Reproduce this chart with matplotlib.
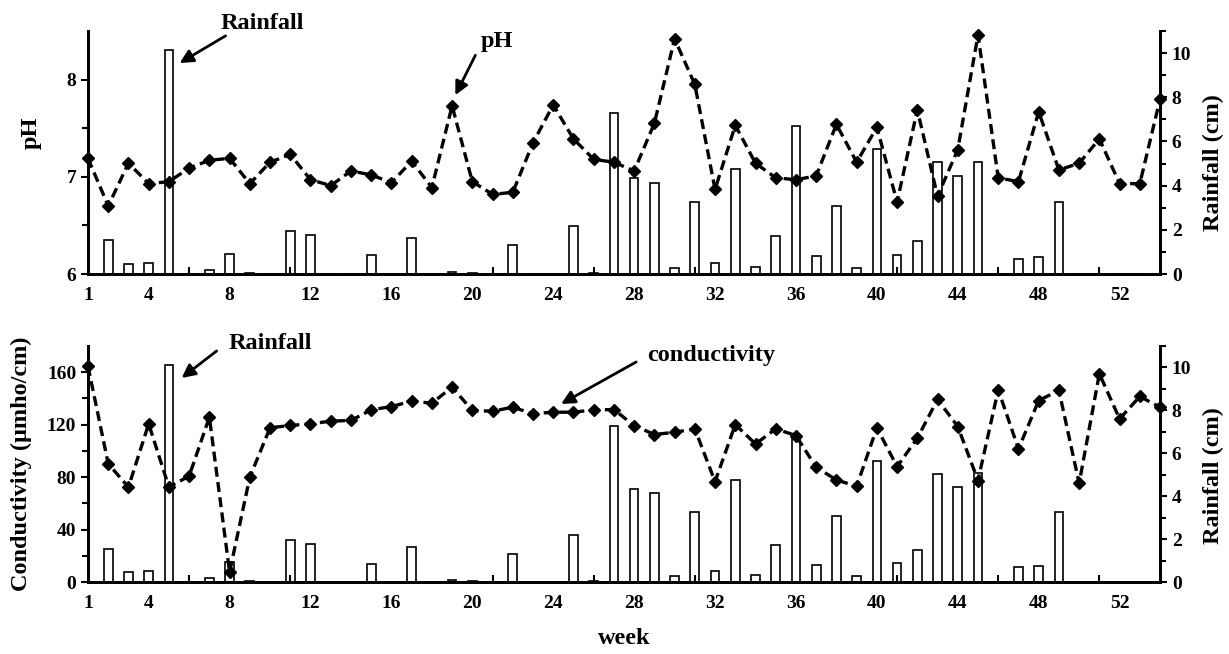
import numpy as np
import matplotlib
matplotlib.use('Agg')
import matplotlib.pyplot as plt

# weekly data
weeks = np.arange(1, 55)
ph = [7.19, 6.70, 7.14, 6.93, 6.95, 7.09, 7.17, 7.19, 6.93, 7.15,
      7.23, 6.97, 6.91, 7.06, 7.02, 6.94, 7.16, 6.89, 7.73, 6.95,
      6.82, 6.84, 7.35, 7.74, 7.39, 7.18, 7.15, 7.06, 7.55, 8.42,
      7.95, 6.87, 7.53, 7.14, 6.99, 6.97, 7.01, 7.54, 7.15, 7.51,
      6.74, 7.69, 6.80, 7.28, 8.46, 6.99, 6.95, 7.67, 7.07, 7.14,
      7.39, 6.93, 6.93, 7.80]
conductivity = [164.6, 90.2, 72.4, 120.6, 72.4, 80.8, 125.7, 7.6, 80.0, 117.6,
                119.4, 120.6, 122.7, 123.2, 131.3, 133.8, 137.9, 136.4, 148.6, 130.8,
                130.3, 133.3, 128.3, 129.5, 129.5, 131.3, 131.5, 119.3, 112.5, 114.2,
                116.8, 76.6, 120.1, 105.3, 116.8, 111.7, 87.5, 77.9, 73.0, 117.6,
                88.0, 109.7, 139.2, 118.6, 77.4, 146.6, 101.5, 138.4, 146.1, 75.3,
                158.8, 124.4, 141.5, 133.3]
rainfall = [0, 1.55, 0.47, 0.50, 10.12, 0, 0.17, 0.92, 0.05, 0,
            1.95, 1.77, 0, 0, 0.84, 0, 1.62, 0, 0.10, 0.04,
            0, 1.32, 0, 0, 2.17, 0.05, 7.29, 4.33, 4.14, 0.27,
            3.28, 0.50, 4.75, 0.32, 1.71, 6.71, 0.81, 3.10, 0.27, 5.65,
            0.87, 1.49, 5.05, 4.45, 5.08, 0, 0.68, 0.75, 3.28, 0,
            0, 0, 0, 0]
week_labels = [1, 4, 8, 12, 16, 20, 24, 28, 32, 36, 40, 44, 48, 52]

plt.rcParams['font.family'] = ['Liberation Serif', 'DejaVu Serif']
plt.rcParams['font.weight'] = 'bold'
plt.rcParams['axes.labelweight'] = 'bold'

LAB = 17.5
TXT = 17.5
TICK = 14

fig = plt.figure(figsize=(12.29, 6.54), dpi=100)
ax_ph = fig.add_axes([0.0716, 0.581, 0.8723, 0.3716])
ax_c = fig.add_axes([0.0716, 0.110, 0.8723, 0.361])


def panel(ax, values, ylim, major, minor, ylabel, ylab_pos, rlab_pos):
    rax = ax.twinx()
    rax.bar(weeks, rainfall, width=0.43, facecolor='white', edgecolor='black', linewidth=1.2)
    rax.set_ylim(0, 11)
    rax.set_yticks([0, 2, 4, 6, 8, 10])
    rax.set_yticks(range(0, 12), minor=True)
    rax.set_ylabel('Rainfall (cm)', fontsize=LAB)
    rax.yaxis.set_label_coords(*rlab_pos)

    ax.plot(weeks, values, color='black', linestyle=(0, (3, 1.6)), lw=2.4,
            marker='D', markersize=6, clip_on=False)
    ax.set_zorder(rax.get_zorder() + 1)
    ax.patch.set_visible(False)
    ax.set_xlim(1, 54)
    ax.set_ylim(*ylim)
    ax.set_yticks(major)
    ax.set_yticks(minor, minor=True)
    ax.set_ylabel(ylabel, fontsize=LAB)
    ax.yaxis.set_label_coords(*ylab_pos)

    ax.set_xticks(week_labels)
    ax.set_xticks(range(1, 52, 5), minor=True)
    ax.tick_params(axis='x', which='major', length=0, pad=9, labelsize=TICK)
    ax.tick_params(axis='x', which='minor', direction='in', length=5, width=1.5)
    ax.tick_params(axis='y', which='both', direction='out', width=1.5, labelsize=TICK)
    ax.tick_params(axis='y', which='major', length=5)
    ax.tick_params(axis='y', which='minor', length=4)
    rax.tick_params(axis='y', which='both', direction='out', width=1.5, labelsize=TICK)
    rax.tick_params(axis='y', which='major', length=5)
    rax.tick_params(axis='y', which='minor', length=4)

    for a in (ax, rax):
        a.spines['top'].set_visible(False)
        for s in ('left', 'right', 'bottom'):
            a.spines[s].set_linewidth(2)
    return rax


panel(ax_ph, ph, (6, 8.5), [6, 7, 8], [6.5, 7.5], 'pH', (-0.043, 0.58), (1.040, 0.46))
panel(ax_c, conductivity, (0, 180), [0, 40, 80, 120, 160], [20, 60, 100, 140],
      'Conductivity (μmho/cm)', (-0.052, 0.5), (1.040, 0.453))
ax_c.set_xlabel('week', fontsize=LAB, labelpad=12)

arrow = dict(arrowstyle='-|>', color='black', lw=2, mutation_scale=20, shrinkA=0, shrinkB=0)
ax_ph.annotate('', xy=(5.53, 8.17), xytext=(7.8, 8.45), arrowprops=arrow, annotation_clip=False)
ax_ph.text(9.6, 8.58, 'Rainfall', fontsize=TXT, ha='center', va='center', clip_on=False)
ax_ph.annotate('', xy=(19.16, 7.84), xytext=(20.15, 8.25), arrowprops=arrow, annotation_clip=False)
ax_ph.text(21.2, 8.39, 'pH', fontsize=TXT, ha='center', va='center', clip_on=False)

ax_c.annotate('', xy=(5.63, 155.6), xytext=(7.36, 176.2), arrowprops=arrow, annotation_clip=False)
ax_c.text(10.0, 181.5, 'Rainfall', fontsize=TXT, ha='center', va='center', clip_on=False)
ax_c.annotate('', xy=(24.39, 135.8), xytext=(28.1, 167.8), arrowprops=arrow, annotation_clip=False)
ax_c.text(31.8, 173, 'conductivity', fontsize=TXT, ha='center', va='center', clip_on=False)

fig.savefig('out.png', dpi=100)
